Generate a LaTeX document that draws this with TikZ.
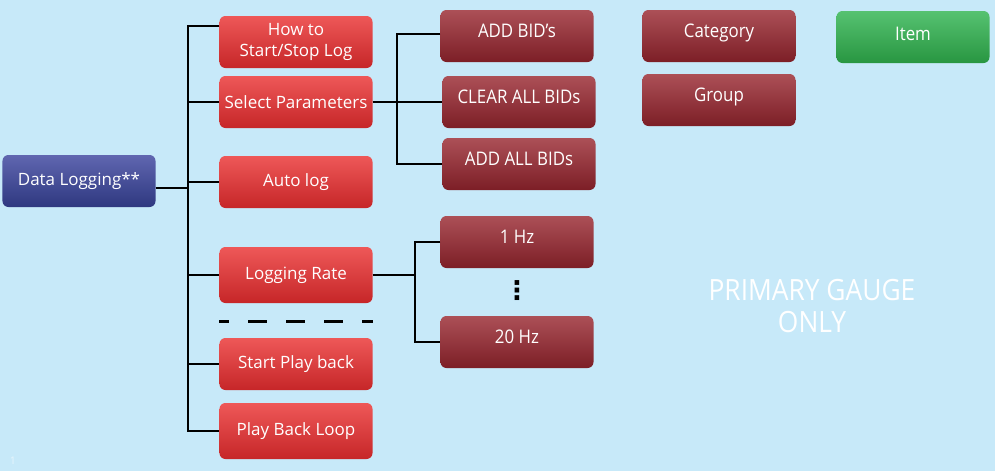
\documentclass[tikz,border=0pt]{standalone}
\usepackage{fontspec}
\setmainfont{Open Sans}
\newfontfamily\narrowfont[FakeStretch=0.9]{Open Sans}
\newfontfamily\symbolfont{DejaVu Sans}
\usetikzlibrary{positioning}
\definecolor{Sky}{RGB}{199,233,249}
\definecolor{RedTop}{RGB}{238,88,88}
\definecolor{RedBot}{RGB}{198,38,40}
\definecolor{WineTop}{RGB}{172,80,87}
\definecolor{WineBot}{RGB}{124,30,38}
\definecolor{LeafTop}{RGB}{86,194,113}
\definecolor{LeafBot}{RGB}{40,150,65}
\definecolor{NavyTop}{RGB}{96,102,176}
\definecolor{NavyBot}{RGB}{46,56,128}

\begin{document}
\begin{tikzpicture}[
    x=0.03cm, y=-0.03cm,
    box/.style={rounded corners=5pt, text=white, align=center, inner sep=2pt,
        minimum width=4.59cm, minimum height=1.56cm,
        font=\fontsize{14.5}{18}\selectfont},
    menu/.style={box, top color=RedTop, bottom color=RedBot},
    option/.style={box, top color=WineTop, bottom color=WineBot,
        font=\narrowfont\fontsize{16}{18}\selectfont,
        text height=0.42cm, text depth=0.32cm},
    wire/.style={line width=2.2pt, black},
]

% fond
\fill[Sky] (0,0) rectangle (995,471);

% racine
\node[box, top color=NavyTop, bottom color=NavyBot] (datalog) at (79,181) {Data Logging**};

% menus
\node[menu] (howto)  at (296,42)  {How to\\Start/Stop Log};
\node[menu] (params) at (296,102) {Select Parameters};
\node[menu] (auto)   at (296,182) {Auto log};
\node[menu, minimum height=1.68cm] (rate) at (296,275) {Logging Rate};
\node[menu] (play)   at (296,364) {Start Play back};
\node[menu, minimum height=1.68cm] (loop) at (296,431) {Play Back Loop};

% options
\node[option] (addbid)   at (517,36)  {ADD BID’s};
\node[option] (clear)    at (519,102) {CLEAR ALL BIDs};
\node[option] (addall)   at (519,164) {ADD ALL BIDs};
\node[option] (onehz)    at (517,242) {1 Hz};
\node[option] (twentyhz) at (517,342) {20 Hz};
\node[font=\symbolfont\bfseries\fontsize{22}{22}\selectfont] (dots) at (517,291) {⋮};

% legende
\node[option] (category) at (719,36)  {Category};
\node[option] (group)    at (719,100) {Group};
\node[option, top color=LeafTop, bottom color=LeafBot, text depth=0.22cm] (item) at (913,37) {Item};

% liaisons
\coordinate (trunk) at (188,26);
\draw[wire] (howto.west |- trunk) -- (trunk) |- (loop.west);
\foreach \n in {params, auto, rate, play}
    \draw[wire] (trunk |- \n.west) -- (\n.west);
\draw[wire] ([yshift=-0.21cm]datalog.east) -| (trunk);

\coordinate (fork) at (397,34);
\draw[wire] (addbid.west |- fork) -- (fork) |- (addall.west);
\draw[wire] (params.east) -- (clear.west);

\coordinate (rfork) at (415,242);
\draw[wire] (onehz.west) -- (rfork) |- (twentyhz.west);
\draw[wire] (rate.east) -- (rfork |- rate.east);

% separation
\draw[wire, dash pattern=on 0.57cm off 0.57cm, dash phase=0.27cm]
    ([yshift=-0.54cm]rate.south west) -- ([yshift=-0.54cm]rate.south east);

% note
\node[text=white, align=center, font=\narrowfont\fontsize{25}{27}\selectfont]
    (primary) at (812,306) {PRIMARY GAUGE\\ONLY};
\node[text=white!55!Sky, font=\fontsize{9}{9}\selectfont] (pagenum) at (13,461) {1};

\end{tikzpicture}
\end{document}
